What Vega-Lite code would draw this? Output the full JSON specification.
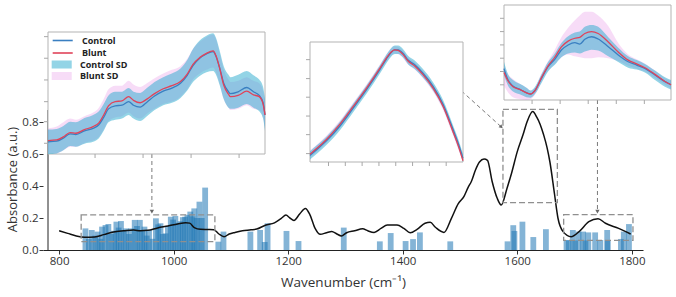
{
  "$schema": "https://vega.github.io/schema/vega-lite/v6.json",
  "width": 600,
  "height": 250,
  "autosize": {"type": "none"},
  "padding": {"left": 43, "top": 0, "right": 33, "bottom": 47},
  "background": "white",
  "config": {"view": {"stroke": null}, "font": "Open Sans", "axis": {"grid": false}},
  "datasets": {
    "spectrum": [
      {"wn": 800, "abs": 0.12}, {"wn": 815, "abs": 0.104}, {"wn": 830, "abs": 0.088}, {"wn": 845, "abs": 0.08},
      {"wn": 862, "abs": 0.082}, {"wn": 878, "abs": 0.096}, {"wn": 895, "abs": 0.113}, {"wn": 913, "abs": 0.12},
      {"wn": 930, "abs": 0.125}, {"wn": 942, "abs": 0.12}, {"wn": 955, "abs": 0.123}, {"wn": 972, "abs": 0.138},
      {"wn": 990, "abs": 0.15}, {"wn": 1007, "abs": 0.163}, {"wn": 1021, "abs": 0.171}, {"wn": 1028, "abs": 0.168},
      {"wn": 1036, "abs": 0.14}, {"wn": 1047, "abs": 0.129}, {"wn": 1060, "abs": 0.128}, {"wn": 1070, "abs": 0.127},
      {"wn": 1079, "abs": 0.1}, {"wn": 1088, "abs": 0.083}, {"wn": 1097, "abs": 0.1}, {"wn": 1107, "abs": 0.11},
      {"wn": 1120, "abs": 0.12}, {"wn": 1135, "abs": 0.126}, {"wn": 1145, "abs": 0.131}, {"wn": 1160, "abs": 0.155},
      {"wn": 1176, "abs": 0.17}, {"wn": 1188, "abs": 0.198}, {"wn": 1196, "abs": 0.218}, {"wn": 1203, "abs": 0.2},
      {"wn": 1210, "abs": 0.185}, {"wn": 1220, "abs": 0.225}, {"wn": 1230, "abs": 0.26}, {"wn": 1238, "abs": 0.22},
      {"wn": 1247, "abs": 0.135}, {"wn": 1256, "abs": 0.098}, {"wn": 1267, "abs": 0.108}, {"wn": 1276, "abs": 0.115},
      {"wn": 1285, "abs": 0.1}, {"wn": 1293, "abs": 0.088}, {"wn": 1302, "abs": 0.108}, {"wn": 1316, "abs": 0.12},
      {"wn": 1330, "abs": 0.133}, {"wn": 1339, "abs": 0.12}, {"wn": 1350, "abs": 0.11}, {"wn": 1362, "abs": 0.135},
      {"wn": 1373, "abs": 0.156}, {"wn": 1390, "abs": 0.156}, {"wn": 1402, "abs": 0.135}, {"wn": 1413, "abs": 0.108},
      {"wn": 1425, "abs": 0.129}, {"wn": 1439, "abs": 0.167}, {"wn": 1448, "abs": 0.173}, {"wn": 1457, "abs": 0.142},
      {"wn": 1472, "abs": 0.11}, {"wn": 1485, "abs": 0.198}, {"wn": 1497, "abs": 0.29}, {"wn": 1507, "abs": 0.335},
      {"wn": 1514, "abs": 0.39}, {"wn": 1520, "abs": 0.43}, {"wn": 1527, "abs": 0.5}, {"wn": 1534, "abs": 0.55},
      {"wn": 1542, "abs": 0.568}, {"wn": 1548, "abs": 0.56}, {"wn": 1556, "abs": 0.43}, {"wn": 1565, "abs": 0.323},
      {"wn": 1572, "abs": 0.281}, {"wn": 1582, "abs": 0.385}, {"wn": 1590, "abs": 0.48}, {"wn": 1600, "abs": 0.615},
      {"wn": 1610, "abs": 0.72}, {"wn": 1617, "abs": 0.8}, {"wn": 1627, "abs": 0.865}, {"wn": 1634, "abs": 0.83},
      {"wn": 1640, "abs": 0.785}, {"wn": 1646, "abs": 0.72}, {"wn": 1652, "abs": 0.64}, {"wn": 1657, "abs": 0.55},
      {"wn": 1665, "abs": 0.35}, {"wn": 1671, "abs": 0.2}, {"wn": 1680, "abs": 0.115}, {"wn": 1694, "abs": 0.083},
      {"wn": 1708, "abs": 0.115}, {"wn": 1725, "abs": 0.177}, {"wn": 1741, "abs": 0.196}, {"wn": 1754, "abs": 0.167},
      {"wn": 1777, "abs": 0.135}, {"wn": 1798, "abs": 0.1}
    ],
    "bars": [
      {"wn": 846, "abs": 0.135}, {"wn": 852, "abs": 0.07}, {"wn": 857, "abs": 0.125}, {"wn": 863, "abs": 0.09},
      {"wn": 867, "abs": 0.115}, {"wn": 872, "abs": 0.07}, {"wn": 875, "abs": 0.146}, {"wn": 881, "abs": 0.156},
      {"wn": 886, "abs": 0.163}, {"wn": 891, "abs": 0.1}, {"wn": 896, "abs": 0.12}, {"wn": 900, "abs": 0.177},
      {"wn": 904, "abs": 0.14}, {"wn": 908, "abs": 0.181}, {"wn": 913, "abs": 0.12}, {"wn": 917, "abs": 0.135},
      {"wn": 922, "abs": 0.1}, {"wn": 926, "abs": 0.135}, {"wn": 932, "abs": 0.188}, {"wn": 936, "abs": 0.15},
      {"wn": 941, "abs": 0.188}, {"wn": 945, "abs": 0.12}, {"wn": 949, "abs": 0.146}, {"wn": 953, "abs": 0.09},
      {"wn": 957, "abs": 0.125}, {"wn": 963, "abs": 0.07}, {"wn": 969, "abs": 0.198}, {"wn": 973, "abs": 0.16},
      {"wn": 977, "abs": 0.167}, {"wn": 981, "abs": 0.1}, {"wn": 986, "abs": 0.104}, {"wn": 990, "abs": 0.15},
      {"wn": 995, "abs": 0.208}, {"wn": 999, "abs": 0.19}, {"wn": 1003, "abs": 0.213}, {"wn": 1008, "abs": 0.17},
      {"wn": 1012, "abs": 0.18}, {"wn": 1016, "abs": 0.205}, {"wn": 1020, "abs": 0.208}, {"wn": 1024, "abs": 0.22},
      {"wn": 1029, "abs": 0.24}, {"wn": 1033, "abs": 0.21}, {"wn": 1036, "abs": 0.26}, {"wn": 1040, "abs": 0.2},
      {"wn": 1045, "abs": 0.302}, {"wn": 1049, "abs": 0.2}, {"wn": 1055, "abs": 0.39}, {"wn": 1078, "abs": 0.052},
      {"wn": 1087, "abs": 0.115}, {"wn": 1134, "abs": 0.115}, {"wn": 1151, "abs": 0.125}, {"wn": 1159, "abs": 0.05},
      {"wn": 1164, "abs": 0.167}, {"wn": 1197, "abs": 0.119}, {"wn": 1218, "abs": 0.056}, {"wn": 1297, "abs": 0.14},
      {"wn": 1360, "abs": 0.054}, {"wn": 1379, "abs": 0.106}, {"wn": 1405, "abs": 0.056}, {"wn": 1418, "abs": 0.068},
      {"wn": 1430, "abs": 0.11}, {"wn": 1483, "abs": 0.054}, {"wn": 1583, "abs": 0.054}, {"wn": 1593, "abs": 0.155},
      {"wn": 1595, "abs": 0.119}, {"wn": 1609, "abs": 0.177}, {"wn": 1628, "abs": 0.081}, {"wn": 1650, "abs": 0.13},
      {"wn": 1686, "abs": 0.0625}, {"wn": 1690, "abs": 0.06}, {"wn": 1697, "abs": 0.125}, {"wn": 1701, "abs": 0.06},
      {"wn": 1707, "abs": 0.115}, {"wn": 1715, "abs": 0.115}, {"wn": 1719, "abs": 0.06}, {"wn": 1724, "abs": 0.11},
      {"wn": 1736, "abs": 0.11}, {"wn": 1745, "abs": 0.0625}, {"wn": 1757, "abs": 0.125}, {"wn": 1758, "abs": 0.06},
      {"wn": 1781, "abs": 0.069}, {"wn": 1786, "abs": 0.115}, {"wn": 1795, "abs": 0.162}
    ],
    "boxes": [
      {"x0": 838.5, "x1": 1072, "y0": 0.052, "y1": 0.219},
      {"x0": 1575, "x1": 1670, "y0": 0.296, "y1": 0.879},
      {"x0": 1681, "x1": 1802, "y0": 0.06, "y1": 0.221}
    ],
    "arrows": [
      {"x0": 962, "y0": 0.6, "x1": 962, "y1": 0.24, "tip": "down"},
      {"x0": 1502.6, "y0": 0.994, "x1": 1572.2, "y1": 0.769, "tip": "diag"},
      {"x0": 1740, "y0": 0.9375, "x1": 1740, "y1": 0.24, "tip": "down"}
    ],
    "inset_a": [
      {"wn": 851, "Control": 0.1, "Blunt": 0.11, "c_lo": 0.0, "c_hi": 0.2, "b_lo": 0.01, "b_hi": 0.21},
      {"wn": 860, "Control": 0.105, "Blunt": 0.115, "c_lo": 0.005, "c_hi": 0.205, "b_lo": 0.005, "b_hi": 0.225},
      {"wn": 867, "Control": 0.13, "Blunt": 0.14, "c_lo": 0.03, "c_hi": 0.23, "b_lo": 0.03, "b_hi": 0.26},
      {"wn": 874, "Control": 0.165, "Blunt": 0.175, "c_lo": 0.065, "c_hi": 0.265, "b_lo": 0.06, "b_hi": 0.29},
      {"wn": 880, "Control": 0.16, "Blunt": 0.17, "c_lo": 0.06, "c_hi": 0.26, "b_lo": 0.06, "b_hi": 0.28},
      {"wn": 889, "Control": 0.19, "Blunt": 0.2, "c_lo": 0.085, "c_hi": 0.295, "b_lo": 0.09, "b_hi": 0.31},
      {"wn": 898, "Control": 0.21, "Blunt": 0.225, "c_lo": 0.1, "c_hi": 0.32, "b_lo": 0.11, "b_hi": 0.34},
      {"wn": 904, "Control": 0.24, "Blunt": 0.255, "c_lo": 0.13, "c_hi": 0.35, "b_lo": 0.14, "b_hi": 0.38},
      {"wn": 909, "Control": 0.3, "Blunt": 0.32, "c_lo": 0.19, "c_hi": 0.41, "b_lo": 0.2, "b_hi": 0.45},
      {"wn": 914, "Control": 0.37, "Blunt": 0.395, "c_lo": 0.26, "c_hi": 0.48, "b_lo": 0.27, "b_hi": 0.53},
      {"wn": 921, "Control": 0.395, "Blunt": 0.43, "c_lo": 0.28, "c_hi": 0.51, "b_lo": 0.3, "b_hi": 0.56},
      {"wn": 928, "Control": 0.4, "Blunt": 0.435, "c_lo": 0.29, "c_hi": 0.51, "b_lo": 0.31, "b_hi": 0.56},
      {"wn": 935, "Control": 0.43, "Blunt": 0.47, "c_lo": 0.32, "c_hi": 0.54, "b_lo": 0.34, "b_hi": 0.6},
      {"wn": 940, "Control": 0.4, "Blunt": 0.44, "c_lo": 0.29, "c_hi": 0.51, "b_lo": 0.31, "b_hi": 0.57},
      {"wn": 947, "Control": 0.385, "Blunt": 0.42, "c_lo": 0.27, "c_hi": 0.5, "b_lo": 0.29, "b_hi": 0.55},
      {"wn": 954, "Control": 0.425, "Blunt": 0.45, "c_lo": 0.31, "c_hi": 0.54, "b_lo": 0.33, "b_hi": 0.58},
      {"wn": 962, "Control": 0.475, "Blunt": 0.495, "c_lo": 0.36, "c_hi": 0.59, "b_lo": 0.37, "b_hi": 0.62},
      {"wn": 971, "Control": 0.515, "Blunt": 0.535, "c_lo": 0.4, "c_hi": 0.63, "b_lo": 0.41, "b_hi": 0.66},
      {"wn": 980, "Control": 0.54, "Blunt": 0.56, "c_lo": 0.42, "c_hi": 0.66, "b_lo": 0.43, "b_hi": 0.69},
      {"wn": 989, "Control": 0.58, "Blunt": 0.595, "c_lo": 0.46, "c_hi": 0.7, "b_lo": 0.47, "b_hi": 0.72},
      {"wn": 996, "Control": 0.645, "Blunt": 0.655, "c_lo": 0.52, "c_hi": 0.77, "b_lo": 0.53, "b_hi": 0.78},
      {"wn": 1002, "Control": 0.725, "Blunt": 0.735, "c_lo": 0.59, "c_hi": 0.86, "b_lo": 0.61, "b_hi": 0.86},
      {"wn": 1009, "Control": 0.785, "Blunt": 0.79, "c_lo": 0.64, "c_hi": 0.93, "b_lo": 0.66, "b_hi": 0.92},
      {"wn": 1016, "Control": 0.82, "Blunt": 0.825, "c_lo": 0.67, "c_hi": 0.97, "b_lo": 0.69, "b_hi": 0.96},
      {"wn": 1023, "Control": 0.84, "Blunt": 0.845, "c_lo": 0.68, "c_hi": 0.99, "b_lo": 0.71, "b_hi": 0.98},
      {"wn": 1026, "Control": 0.8, "Blunt": 0.805, "c_lo": 0.65, "c_hi": 0.95, "b_lo": 0.67, "b_hi": 0.94},
      {"wn": 1030, "Control": 0.7, "Blunt": 0.695, "c_lo": 0.56, "c_hi": 0.84, "b_lo": 0.57, "b_hi": 0.82},
      {"wn": 1034, "Control": 0.58, "Blunt": 0.565, "c_lo": 0.45, "c_hi": 0.72, "b_lo": 0.45, "b_hi": 0.69},
      {"wn": 1039, "Control": 0.51, "Blunt": 0.49, "c_lo": 0.38, "c_hi": 0.65, "b_lo": 0.38, "b_hi": 0.61},
      {"wn": 1041, "Control": 0.495, "Blunt": 0.47, "c_lo": 0.37, "c_hi": 0.63, "b_lo": 0.36, "b_hi": 0.59},
      {"wn": 1049, "Control": 0.51, "Blunt": 0.48, "c_lo": 0.38, "c_hi": 0.65, "b_lo": 0.37, "b_hi": 0.6},
      {"wn": 1058, "Control": 0.545, "Blunt": 0.515, "c_lo": 0.41, "c_hi": 0.68, "b_lo": 0.4, "b_hi": 0.63},
      {"wn": 1065, "Control": 0.51, "Blunt": 0.485, "c_lo": 0.38, "c_hi": 0.645, "b_lo": 0.37, "b_hi": 0.6},
      {"wn": 1071, "Control": 0.48, "Blunt": 0.47, "c_lo": 0.35, "c_hi": 0.61, "b_lo": 0.36, "b_hi": 0.58},
      {"wn": 1075, "Control": 0.42, "Blunt": 0.41, "c_lo": 0.29, "c_hi": 0.55, "b_lo": 0.3, "b_hi": 0.52},
      {"wn": 1077, "Control": 0.32, "Blunt": 0.32, "c_lo": 0.19, "c_hi": 0.45, "b_lo": 0.21, "b_hi": 0.43}
    ],
    "inset_b": [
      {"wn": 1579, "Control": 0.055, "Blunt": 0.065, "c_lo": 0.02, "c_hi": 0.09, "b_lo": 0.035, "b_hi": 0.095},
      {"wn": 1583.6, "Control": 0.11, "Blunt": 0.12, "c_lo": 0.075, "c_hi": 0.145, "b_lo": 0.09, "b_hi": 0.15},
      {"wn": 1588.9, "Control": 0.178, "Blunt": 0.19, "c_lo": 0.143, "c_hi": 0.213, "b_lo": 0.16, "b_hi": 0.22},
      {"wn": 1596.8, "Control": 0.3, "Blunt": 0.315, "c_lo": 0.265, "c_hi": 0.335, "b_lo": 0.285, "b_hi": 0.345},
      {"wn": 1604.8, "Control": 0.452, "Blunt": 0.465, "c_lo": 0.417, "c_hi": 0.487, "b_lo": 0.435, "b_hi": 0.495},
      {"wn": 1612.7, "Control": 0.605, "Blunt": 0.618, "c_lo": 0.57, "c_hi": 0.64, "b_lo": 0.588, "b_hi": 0.648},
      {"wn": 1620.6, "Control": 0.772, "Blunt": 0.782, "c_lo": 0.737, "c_hi": 0.807, "b_lo": 0.752, "b_hi": 0.812},
      {"wn": 1624.5, "Control": 0.86, "Blunt": 0.867, "c_lo": 0.825, "c_hi": 0.895, "b_lo": 0.837, "b_hi": 0.897},
      {"wn": 1626.5, "Control": 0.9, "Blunt": 0.905, "c_lo": 0.865, "c_hi": 0.935, "b_lo": 0.875, "b_hi": 0.935},
      {"wn": 1629.4, "Control": 0.935, "Blunt": 0.935, "c_lo": 0.9, "c_hi": 0.97, "b_lo": 0.905, "b_hi": 0.965},
      {"wn": 1631.4, "Control": 0.935, "Blunt": 0.93, "c_lo": 0.9, "c_hi": 0.97, "b_lo": 0.9, "b_hi": 0.96},
      {"wn": 1634.4, "Control": 0.905, "Blunt": 0.895, "c_lo": 0.87, "c_hi": 0.94, "b_lo": 0.865, "b_hi": 0.925},
      {"wn": 1637.3, "Control": 0.85, "Blunt": 0.842, "c_lo": 0.815, "c_hi": 0.885, "b_lo": 0.812, "b_hi": 0.872},
      {"wn": 1641.3, "Control": 0.81, "Blunt": 0.8, "c_lo": 0.775, "c_hi": 0.845, "b_lo": 0.77, "b_hi": 0.83},
      {"wn": 1646.2, "Control": 0.74, "Blunt": 0.728, "c_lo": 0.705, "c_hi": 0.775, "b_lo": 0.698, "b_hi": 0.758},
      {"wn": 1652.2, "Control": 0.63, "Blunt": 0.615, "c_lo": 0.595, "c_hi": 0.665, "b_lo": 0.585, "b_hi": 0.645},
      {"wn": 1658.2, "Control": 0.48, "Blunt": 0.462, "c_lo": 0.445, "c_hi": 0.515, "b_lo": 0.432, "b_hi": 0.492},
      {"wn": 1664.1, "Control": 0.27, "Blunt": 0.25, "c_lo": 0.235, "c_hi": 0.305, "b_lo": 0.22, "b_hi": 0.28},
      {"wn": 1667.3, "Control": 0.15, "Blunt": 0.13, "c_lo": 0.115, "c_hi": 0.185, "b_lo": 0.1, "b_hi": 0.16},
      {"wn": 1670, "Control": 0.03, "Blunt": 0.01, "c_lo": 0.0, "c_hi": 0.065, "b_lo": 0.0, "b_hi": 0.04}
    ],
    "inset_c": [
      {"wn": 1680, "Control": 0.33, "Blunt": 0.29, "c_lo": 0.26, "c_hi": 0.4, "b_lo": 0.15, "b_hi": 0.36},
      {"wn": 1682.9, "Control": 0.21, "Blunt": 0.2, "c_lo": 0.15, "c_hi": 0.27, "b_lo": 0.08, "b_hi": 0.27},
      {"wn": 1686.4, "Control": 0.147, "Blunt": 0.14, "c_lo": 0.09, "c_hi": 0.21, "b_lo": 0.03, "b_hi": 0.22},
      {"wn": 1691.2, "Control": 0.112, "Blunt": 0.112, "c_lo": 0.06, "c_hi": 0.17, "b_lo": 0.01, "b_hi": 0.17},
      {"wn": 1696, "Control": 0.077, "Blunt": 0.075, "c_lo": 0.03, "c_hi": 0.13, "b_lo": 0.0, "b_hi": 0.13},
      {"wn": 1699, "Control": 0.063, "Blunt": 0.063, "c_lo": 0.025, "c_hi": 0.1, "b_lo": 0.01, "b_hi": 0.1},
      {"wn": 1701.9, "Control": 0.098, "Blunt": 0.095, "c_lo": 0.06, "c_hi": 0.135, "b_lo": 0.05, "b_hi": 0.13},
      {"wn": 1706.7, "Control": 0.228, "Blunt": 0.235, "c_lo": 0.18, "c_hi": 0.27, "b_lo": 0.19, "b_hi": 0.28},
      {"wn": 1711.4, "Control": 0.351, "Blunt": 0.36, "c_lo": 0.3, "c_hi": 0.4, "b_lo": 0.31, "b_hi": 0.41},
      {"wn": 1716.2, "Control": 0.428, "Blunt": 0.45, "c_lo": 0.37, "c_hi": 0.49, "b_lo": 0.38, "b_hi": 0.53},
      {"wn": 1720.9, "Control": 0.526, "Blunt": 0.56, "c_lo": 0.45, "c_hi": 0.6, "b_lo": 0.45, "b_hi": 0.66},
      {"wn": 1725.7, "Control": 0.579, "Blunt": 0.62, "c_lo": 0.49, "c_hi": 0.67, "b_lo": 0.48, "b_hi": 0.76},
      {"wn": 1730.5, "Control": 0.603, "Blunt": 0.65, "c_lo": 0.5, "c_hi": 0.71, "b_lo": 0.46, "b_hi": 0.84},
      {"wn": 1734, "Control": 0.589, "Blunt": 0.66, "c_lo": 0.49, "c_hi": 0.72, "b_lo": 0.45, "b_hi": 0.89},
      {"wn": 1737.6, "Control": 0.639, "Blunt": 0.7, "c_lo": 0.51, "c_hi": 0.77, "b_lo": 0.44, "b_hi": 0.93},
      {"wn": 1742.4, "Control": 0.666, "Blunt": 0.72, "c_lo": 0.53, "c_hi": 0.79, "b_lo": 0.44, "b_hi": 0.93},
      {"wn": 1747.1, "Control": 0.642, "Blunt": 0.7, "c_lo": 0.52, "c_hi": 0.77, "b_lo": 0.45, "b_hi": 0.89},
      {"wn": 1754.3, "Control": 0.561, "Blunt": 0.61, "c_lo": 0.46, "c_hi": 0.66, "b_lo": 0.44, "b_hi": 0.78},
      {"wn": 1761.4, "Control": 0.474, "Blunt": 0.505, "c_lo": 0.4, "c_hi": 0.55, "b_lo": 0.41, "b_hi": 0.6},
      {"wn": 1768.5, "Control": 0.403, "Blunt": 0.42, "c_lo": 0.34, "c_hi": 0.46, "b_lo": 0.36, "b_hi": 0.48},
      {"wn": 1774.5, "Control": 0.368, "Blunt": 0.38, "c_lo": 0.32, "c_hi": 0.42, "b_lo": 0.33, "b_hi": 0.43},
      {"wn": 1780.4, "Control": 0.333, "Blunt": 0.34, "c_lo": 0.29, "c_hi": 0.38, "b_lo": 0.3, "b_hi": 0.385},
      {"wn": 1787.6, "Control": 0.263, "Blunt": 0.27, "c_lo": 0.21, "c_hi": 0.31, "b_lo": 0.23, "b_hi": 0.31},
      {"wn": 1794.7, "Control": 0.193, "Blunt": 0.195, "c_lo": 0.14, "c_hi": 0.24, "b_lo": 0.16, "b_hi": 0.23},
      {"wn": 1799, "Control": 0.16, "Blunt": 0.16, "c_lo": 0.11, "c_hi": 0.21, "b_lo": 0.12, "b_hi": 0.2}
    ]
  },
  "layer": [
    {
      "layer": [
        {
          "data": {"name": "bars"},
          "mark": {"type": "bar", "orient": "vertical", "size": 5.8, "color": "#1f77b4", "opacity": 0.55},
          "encoding": {
            "x": {"field": "wn", "type": "quantitative", "scale": {"domain": [780.6, 1810.8], "nice": false, "zero": false},
              "axis": {"values": [800, 1000, 1200, 1400, 1600, 1800], "format": "d", "title": "Wavenumber (cm⁻¹)", "labelFontSize": 11.5, "labelColor": "#333333", "labelPadding": 1, "tickSize": 4, "tickColor": "#333333", "domainColor": "#222222", "labelFlush": false, "titleFontSize": 13.5, "titleFontWeight": "normal", "titleColor": "#333333", "titlePadding": 9}},
            "y": {"field": "abs", "type": "quantitative", "scale": {"domain": [0, 1.5625], "nice": false, "zero": false},
              "axis": {"values": [0, 0.2, 0.4, 0.6, 0.8], "format": ".1f", "title": "Absorbance (a.u.)", "domain": false, "labelFontSize": 11.5, "labelColor": "#333333", "labelPadding": 1, "tickSize": 4, "tickColor": "#333333", "titleFontSize": 13, "titleFontWeight": "normal", "titleColor": "#333333", "titleX": -31, "titleY": 179, "titleAngle": 270, "titleAlign": "center", "titleBaseline": "middle"}}
          }
        },
        {
          "data": {"name": "spectrum"},
          "mark": {"type": "line", "color": "#111111", "strokeWidth": 1.5, "interpolate": "monotone"},
          "encoding": {
            "x": {"field": "wn", "type": "quantitative", "scale": {"domain": [780.6, 1810.8], "nice": false, "zero": false}},
            "y": {"field": "abs", "type": "quantitative", "scale": {"domain": [0, 1.5625], "nice": false, "zero": false}}
          }
        },
        {
          "data": {"values": [{}]},
          "mark": {"type": "rule", "color": "#222222", "strokeWidth": 1},
          "encoding": {
            "x": {"datum": 780.6, "type": "quantitative", "scale": {"domain": [780.6, 1810.8], "nice": false, "zero": false}},
            "y": {"datum": 0, "type": "quantitative", "scale": {"domain": [0, 1.5625], "nice": false, "zero": false}},
            "y2": {"datum": 0.875}
          }
        },
        {
          "data": {"name": "boxes"},
          "mark": {"type": "rect", "filled": false, "stroke": "#8f8f8f", "strokeWidth": 1.3, "strokeDash": [6, 3]},
          "encoding": {
            "x": {"field": "x0", "type": "quantitative", "scale": {"domain": [780.6, 1810.8], "nice": false, "zero": false}},
            "x2": {"field": "x1"},
            "y": {"field": "y0", "type": "quantitative", "scale": {"domain": [0, 1.5625], "nice": false, "zero": false}},
            "y2": {"field": "y1"}
          }
        },
        {
          "data": {"name": "arrows"},
          "mark": {"type": "rule", "color": "#7a7a7a", "strokeWidth": 1, "strokeDash": [4, 3]},
          "encoding": {
            "x": {"field": "x0", "type": "quantitative", "scale": {"domain": [780.6, 1810.8], "nice": false, "zero": false}},
            "x2": {"field": "x1"},
            "y": {"field": "y0", "type": "quantitative", "scale": {"domain": [0, 1.5625], "nice": false, "zero": false}},
            "y2": {"field": "y1"}
          }
        },
        {
          "data": {"name": "arrows"},
          "transform": [{"filter": "datum.tip === 'down'"}],
          "mark": {"type": "point", "shape": "triangle-down", "filled": true, "color": "#666666", "size": 18, "opacity": 1},
          "encoding": {
            "x": {"field": "x1", "type": "quantitative", "scale": {"domain": [780.6, 1810.8], "nice": false, "zero": false}},
            "y": {"field": "y1", "type": "quantitative", "scale": {"domain": [0, 1.5625], "nice": false, "zero": false}}
          }
        },
        {
          "data": {"name": "arrows"},
          "transform": [{"filter": "datum.tip === 'diag'"}],
          "mark": {"type": "point", "shape": "triangle-right", "angle": 42, "filled": true, "color": "#666666", "size": 18, "opacity": 1},
          "encoding": {
            "x": {"field": "x1", "type": "quantitative", "scale": {"domain": [780.6, 1810.8], "nice": false, "zero": false}},
            "y": {"field": "y1", "type": "quantitative", "scale": {"domain": [0, 1.5625], "nice": false, "zero": false}}
          }
        }
      ]
    },
    {
      "layer": [
        {
          "data": {"values": [{}]},
          "mark": {"type": "rect", "fill": "white", "stroke": "#b3b3b3", "strokeWidth": 1},
          "encoding": {
            "x": {"datum": 851, "type": "quantitative", "scale": {"domain": [851, 1077], "range": [5, 222], "nice": false, "zero": false}, "axis": null},
            "x2": {"datum": 1077},
            "y": {"datum": 0, "type": "quantitative", "scale": {"domain": [0, 1], "range": [154, 32], "nice": false, "zero": false}, "axis": null},
            "y2": {"datum": 1}
          }
        },
        {
          "data": {"values": [{"t": 0.088}, {"t": 0.265}, {"t": 0.429}, {"t": 0.607}, {"t": 0.785}, {"t": 0.962}]},
          "mark": {"type": "tick", "orient": "horizontal", "size": 4, "thickness": 1, "color": "#a8a8a8", "xOffset": -2, "opacity": 1},
          "encoding": {
            "x": {"datum": 851, "type": "quantitative", "scale": {"domain": [851, 1077], "range": [5, 222], "nice": false, "zero": false}, "axis": null},
            "y": {"field": "t", "type": "quantitative", "scale": {"domain": [0, 1], "range": [154, 32], "nice": false, "zero": false}, "axis": null}
          }
        },
        {
          "data": {"values": [{"t": 900}, {"t": 950}, {"t": 1000}, {"t": 1050}]},
          "mark": {"type": "tick", "orient": "vertical", "size": 4, "thickness": 1, "color": "#a8a8a8", "yOffset": 2, "opacity": 1},
          "encoding": {
            "x": {"field": "t", "type": "quantitative", "scale": {"domain": [851, 1077], "range": [5, 222], "nice": false, "zero": false}, "axis": null},
            "y": {"datum": 0, "type": "quantitative", "scale": {"domain": [0, 1], "range": [154, 32], "nice": false, "zero": false}, "axis": null}
          }
        },
        {
          "data": {"name": "inset_a"},
          "mark": {"type": "area", "opacity": 1, "interpolate": "monotone"},
          "encoding": {
            "x": {"field": "wn", "type": "quantitative", "scale": {"domain": [851, 1077], "range": [5, 222], "nice": false, "zero": false}, "axis": null},
            "y": {"field": "b_lo", "type": "quantitative", "scale": {"domain": [0, 1], "range": [154, 32], "nice": false, "zero": false}, "axis": null},
            "y2": {"field": "b_hi"},
            "fill": {"datum": "Blunt SD", "type": "nominal", "scale": {"domain": ["Control SD", "Blunt SD"], "range": ["rgba(40,170,205,0.5)", "rgba(230,140,230,0.3)"]},
              "legend": {"orient": "none", "legendX": 12.7, "legendY": 58.5, "title": null, "padding": 0, "symbolType": "M-1.67,-0.67H1.67V0.67H-1.67Z", "symbolSize": 144, "symbolStrokeWidth": 0, "labelFont": "Open Sans", "labelFontSize": 9, "labelFontWeight": "bold", "labelColor": "#222222", "labelOffset": 12.3, "rowPadding": 0.5}}
          }
        },
        {
          "data": {"name": "inset_a"},
          "mark": {"type": "area", "opacity": 1, "interpolate": "monotone"},
          "encoding": {
            "x": {"field": "wn", "type": "quantitative", "scale": {"domain": [851, 1077], "range": [5, 222], "nice": false, "zero": false}, "axis": null},
            "y": {"field": "c_lo", "type": "quantitative", "scale": {"domain": [0, 1], "range": [154, 32], "nice": false, "zero": false}, "axis": null},
            "y2": {"field": "c_hi"},
            "fill": {"datum": "Control SD", "type": "nominal", "scale": {"domain": ["Control SD", "Blunt SD"], "range": ["rgba(40,170,205,0.5)", "rgba(230,140,230,0.3)"]},
              "legend": {"orient": "none", "legendX": 12.7, "legendY": 58.5, "title": null, "padding": 0, "symbolType": "M-1.67,-0.67H1.67V0.67H-1.67Z", "symbolSize": 144, "symbolStrokeWidth": 0, "labelFont": "Open Sans", "labelFontSize": 9, "labelFontWeight": "bold", "labelColor": "#222222", "labelOffset": 12.3, "rowPadding": 0.5}}
          }
        },
        {
          "data": {"name": "inset_a"},
          "transform": [{"fold": ["Control", "Blunt"], "as": ["series", "val"]}],
          "mark": {"type": "line", "strokeWidth": 1.3, "interpolate": "monotone"},
          "encoding": {
            "x": {"field": "wn", "type": "quantitative", "scale": {"domain": [851, 1077], "range": [5, 222], "nice": false, "zero": false}, "axis": null},
            "y": {"field": "val", "type": "quantitative", "scale": {"domain": [0, 1], "range": [154, 32], "nice": false, "zero": false}, "axis": null},
            "color": {"field": "series", "type": "nominal", "scale": {"domain": ["Control", "Blunt"], "range": ["#3a7fc1", "#e0435a"]},
              "legend": {"orient": "none", "legendX": 12.7, "legendY": 33.5, "title": null, "padding": 0, "symbolType": "M-1.67,0H1.67", "symbolSize": 144, "symbolStrokeWidth": 1.6, "labelFont": "Open Sans", "labelFontSize": 9, "labelFontWeight": "bold", "labelColor": "#222222", "labelOffset": 12.3, "rowPadding": 0.5}}
          }
        }
      ]
    },
    {
      "layer": [
        {
          "data": {"values": [{}]},
          "mark": {"type": "rect", "fill": "white", "stroke": "#b3b3b3", "strokeWidth": 1},
          "encoding": {
            "x": {"datum": 1579, "type": "quantitative", "scale": {"domain": [1579, 1670], "range": [267, 420], "nice": false, "zero": false}, "axis": null},
            "x2": {"datum": 1670},
            "y": {"datum": 0, "type": "quantitative", "scale": {"domain": [0, 1], "range": [162, 42], "nice": false, "zero": false}, "axis": null},
            "y2": {"datum": 1}
          }
        },
        {
          "data": {"values": [{"t": 0.07}, {"t": 0.228}, {"t": 0.383}, {"t": 0.54}, {"t": 0.695}, {"t": 0.853}]},
          "mark": {"type": "tick", "orient": "horizontal", "size": 4, "thickness": 1, "color": "#a8a8a8", "xOffset": -2, "opacity": 1},
          "encoding": {
            "x": {"datum": 1579, "type": "quantitative", "scale": {"domain": [1579, 1670], "range": [267, 420], "nice": false, "zero": false}, "axis": null},
            "y": {"field": "t", "type": "quantitative", "scale": {"domain": [0, 1], "range": [162, 42], "nice": false, "zero": false}, "axis": null}
          }
        },
        {
          "data": {"values": [{"t": 1590}, {"t": 1600}, {"t": 1610}, {"t": 1620}, {"t": 1630}, {"t": 1640}, {"t": 1650}, {"t": 1660}]},
          "mark": {"type": "tick", "orient": "vertical", "size": 4, "thickness": 1, "color": "#a8a8a8", "yOffset": 2, "opacity": 1},
          "encoding": {
            "x": {"field": "t", "type": "quantitative", "scale": {"domain": [1579, 1670], "range": [267, 420], "nice": false, "zero": false}, "axis": null},
            "y": {"datum": 0, "type": "quantitative", "scale": {"domain": [0, 1], "range": [162, 42], "nice": false, "zero": false}, "axis": null}
          }
        },
        {
          "data": {"name": "inset_b"},
          "mark": {"type": "area", "opacity": 1, "interpolate": "monotone"},
          "encoding": {
            "x": {"field": "wn", "type": "quantitative", "scale": {"domain": [1579, 1670], "range": [267, 420], "nice": false, "zero": false}, "axis": null},
            "y": {"field": "b_lo", "type": "quantitative", "scale": {"domain": [0, 1], "range": [162, 42], "nice": false, "zero": false}, "axis": null},
            "y2": {"field": "b_hi"},
            "fill": {"datum": "Blunt SD", "type": "nominal", "scale": {"domain": ["Control SD", "Blunt SD"], "range": ["rgba(40,170,205,0.5)", "rgba(230,140,230,0.3)"]}, "legend": null}
          }
        },
        {
          "data": {"name": "inset_b"},
          "mark": {"type": "area", "opacity": 1, "interpolate": "monotone"},
          "encoding": {
            "x": {"field": "wn", "type": "quantitative", "scale": {"domain": [1579, 1670], "range": [267, 420], "nice": false, "zero": false}, "axis": null},
            "y": {"field": "c_lo", "type": "quantitative", "scale": {"domain": [0, 1], "range": [162, 42], "nice": false, "zero": false}, "axis": null},
            "y2": {"field": "c_hi"},
            "fill": {"datum": "Control SD", "type": "nominal", "scale": {"domain": ["Control SD", "Blunt SD"], "range": ["rgba(40,170,205,0.5)", "rgba(230,140,230,0.3)"]}, "legend": null}
          }
        },
        {
          "data": {"name": "inset_b"},
          "transform": [{"fold": ["Control", "Blunt"], "as": ["series", "val"]}],
          "mark": {"type": "line", "strokeWidth": 1.3, "interpolate": "monotone"},
          "encoding": {
            "x": {"field": "wn", "type": "quantitative", "scale": {"domain": [1579, 1670], "range": [267, 420], "nice": false, "zero": false}, "axis": null},
            "y": {"field": "val", "type": "quantitative", "scale": {"domain": [0, 1], "range": [162, 42], "nice": false, "zero": false}, "axis": null},
            "color": {"field": "series", "type": "nominal", "scale": {"domain": ["Control", "Blunt"], "range": ["#3a7fc1", "#e0435a"]}, "legend": null}
          }
        }
      ]
    },
    {
      "layer": [
        {
          "data": {"values": [{}]},
          "mark": {"type": "rect", "fill": "white", "stroke": "#b3b3b3", "strokeWidth": 1},
          "encoding": {
            "x": {"datum": 1680, "type": "quantitative", "scale": {"domain": [1680, 1799], "range": [461, 628], "nice": false, "zero": false}, "axis": null},
            "x2": {"datum": 1799},
            "y": {"datum": 0, "type": "quantitative", "scale": {"domain": [0, 1], "range": [100, 5], "nice": false, "zero": false}, "axis": null},
            "y2": {"datum": 1}
          }
        },
        {
          "data": {"values": [{"t": 0.16}, {"t": 0.3}, {"t": 0.44}, {"t": 0.58}, {"t": 0.72}, {"t": 0.86}]},
          "mark": {"type": "tick", "orient": "horizontal", "size": 4, "thickness": 1, "color": "#a8a8a8", "xOffset": -2, "opacity": 1},
          "encoding": {
            "x": {"datum": 1680, "type": "quantitative", "scale": {"domain": [1680, 1799], "range": [461, 628], "nice": false, "zero": false}, "axis": null},
            "y": {"field": "t", "type": "quantitative", "scale": {"domain": [0, 1], "range": [100, 5], "nice": false, "zero": false}, "axis": null}
          }
        },
        {
          "data": {"values": [{"t": 1700}, {"t": 1720}, {"t": 1740}, {"t": 1760}, {"t": 1780}]},
          "mark": {"type": "tick", "orient": "vertical", "size": 4, "thickness": 1, "color": "#a8a8a8", "yOffset": 2, "opacity": 1},
          "encoding": {
            "x": {"field": "t", "type": "quantitative", "scale": {"domain": [1680, 1799], "range": [461, 628], "nice": false, "zero": false}, "axis": null},
            "y": {"datum": 0, "type": "quantitative", "scale": {"domain": [0, 1], "range": [100, 5], "nice": false, "zero": false}, "axis": null}
          }
        },
        {
          "data": {"name": "inset_c"},
          "mark": {"type": "area", "opacity": 1, "interpolate": "monotone"},
          "encoding": {
            "x": {"field": "wn", "type": "quantitative", "scale": {"domain": [1680, 1799], "range": [461, 628], "nice": false, "zero": false}, "axis": null},
            "y": {"field": "b_lo", "type": "quantitative", "scale": {"domain": [0, 1], "range": [100, 5], "nice": false, "zero": false}, "axis": null},
            "y2": {"field": "b_hi"},
            "fill": {"datum": "Blunt SD", "type": "nominal", "scale": {"domain": ["Control SD", "Blunt SD"], "range": ["rgba(40,170,205,0.5)", "rgba(230,140,230,0.3)"]}, "legend": null}
          }
        },
        {
          "data": {"name": "inset_c"},
          "mark": {"type": "area", "opacity": 1, "interpolate": "monotone"},
          "encoding": {
            "x": {"field": "wn", "type": "quantitative", "scale": {"domain": [1680, 1799], "range": [461, 628], "nice": false, "zero": false}, "axis": null},
            "y": {"field": "c_lo", "type": "quantitative", "scale": {"domain": [0, 1], "range": [100, 5], "nice": false, "zero": false}, "axis": null},
            "y2": {"field": "c_hi"},
            "fill": {"datum": "Control SD", "type": "nominal", "scale": {"domain": ["Control SD", "Blunt SD"], "range": ["rgba(40,170,205,0.5)", "rgba(230,140,230,0.3)"]}, "legend": null}
          }
        },
        {
          "data": {"name": "inset_c"},
          "transform": [{"fold": ["Control", "Blunt"], "as": ["series", "val"]}],
          "mark": {"type": "line", "strokeWidth": 1.3, "interpolate": "monotone"},
          "encoding": {
            "x": {"field": "wn", "type": "quantitative", "scale": {"domain": [1680, 1799], "range": [461, 628], "nice": false, "zero": false}, "axis": null},
            "y": {"field": "val", "type": "quantitative", "scale": {"domain": [0, 1], "range": [100, 5], "nice": false, "zero": false}, "axis": null},
            "color": {"field": "series", "type": "nominal", "scale": {"domain": ["Control", "Blunt"], "range": ["#3a7fc1", "#e0435a"]}, "legend": null}
          }
        }
      ]
    }
  ],
  "resolve": {"scale": {"x": "independent", "y": "independent"}}
}
